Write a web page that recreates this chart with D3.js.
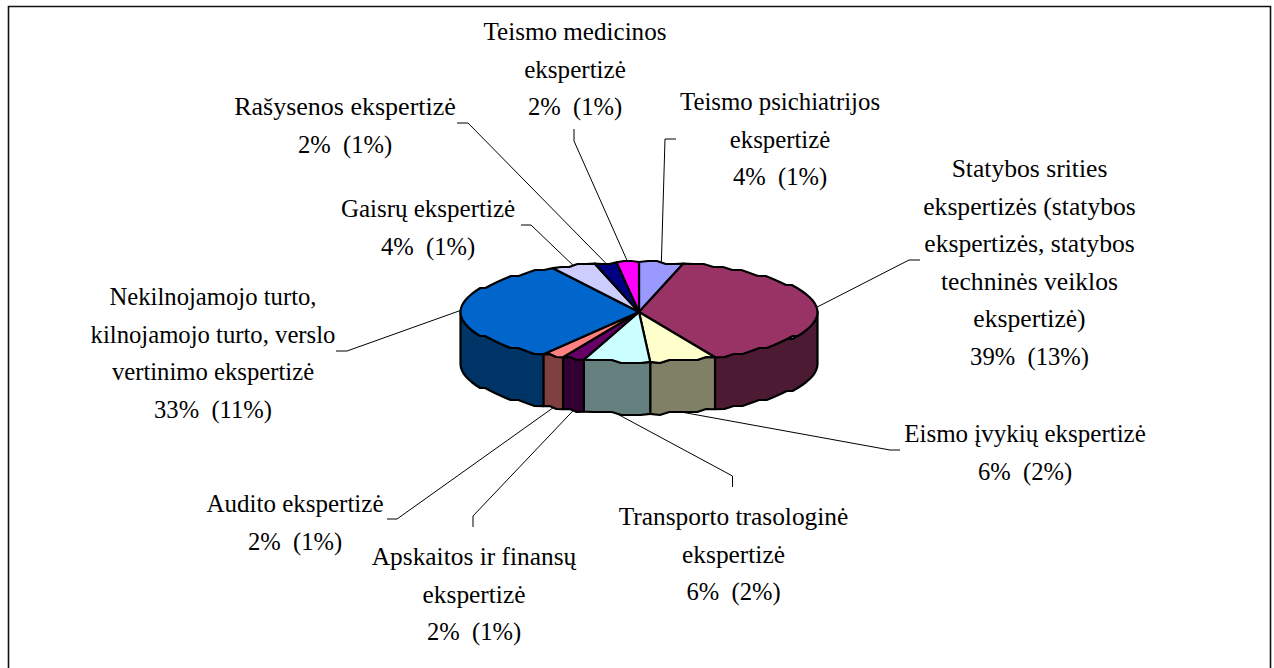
<!DOCTYPE html>
<html><head><meta charset="utf-8">
<script src="https://cdnjs.cloudflare.com/ajax/libs/d3/7.8.5/d3.min.js"></script>
<style>html,body{margin:0;background:#fff;overflow:hidden}svg{display:block}text{font-family:"Liberation Serif",serif;fill:#000}</style>
</head><body><svg id="c" width="1274" height="668"></svg>
<script>
const names = [
 ["Teismo psichiatrijos","ekspertizė"],
 ["Statybos srities","ekspertizės (statybos","ekspertizės, statybos","techninės veiklos","ekspertizė)"],
 ["Eismo įvykių ekspertizė"],
 ["Transporto trasologinė","ekspertizė"],
 ["Apskaitos ir finansų","ekspertizė"],
 ["Audito ekspertizė"],
 ["Nekilnojamojo turto,","kilnojamojo turto, verslo","vertinimo ekspertizė"],
 ["Gaisrų ekspertizė"],
 ["Rašysenos ekspertizė"],
 ["Teismo medicinos","ekspertizė"]
];
const values = [4,39,6,6,2,2,33,4,2,2];
const shares = [1,13,2,2,1,1,11,1,1,1];
const colors = ["#9999FF","#993366","#FFFFCC","#CCFFFF","#660066","#FF8080","#0066CC","#CCCCFF","#000080","#FF00FF"];
// label layout: [centre x, first baseline y, name font size]
const labelPos = [[780,110,24.8],[1029.5,177,25.6],[1025,442,25],[733.5,525,25.4],[474,565,25.4],[295,512,25],[213,305,24.7],[428,217,25],[345,115,26],[575,40,25.1]];
// leader elbows: [elbow x, elbow y, end x, end y]
const leaders = [[665,139,676,139],[909,260,920,260],[890,450,900,450],[732.5,476,732.5,487],[473,516,473,527],[397,519,387,519],[347,351,336,351],[531,225,521,225],[468,123,457,123],[574,141,574,129]];

const cx=639,cy=312,rx=178.5,ry=50,depth=52,lineH=37.6;
const svg=d3.select("#c");
svg.append("path").attr("d","M8.5,668V6.5H1270.5V668").attr("fill","none").attr("stroke","#111").attr("stroke-width",1.6);

const pie=d3.pie().sort(null).value(d=>d)(values);
const px=a=>cx+rx*Math.sin(a), py=a=>cy-ry*Math.cos(a);
// coarse stepped outline, like the low-resolution polygon of the original renderer
const q=v=>Math.round(v/3)*3;
function edge(a0,a1,dy){
  const n=Math.max(1,Math.ceil((a1-a0)/0.06)),pts=[];
  for(let i=0;i<=n;i++){const a=a0+(a1-a0)*i/n;
    pts.push([px(a),((i==0||i==n)?py(a):q(py(a)))+dy]);}
  return pts;
}
const line=d3.line();
const walls=svg.append("g"),tops=svg.append("g"),lead=svg.append("g"),labels=svg.append("g");
const sideCol=c=>{const k=d3.rgb(c);return d3.rgb(k.r/2,k.g/2,k.b/2).formatHex();};
pie.forEach((p,i)=>{
  if(!(p.endAngle>Math.PI/2&&p.startAngle<3*Math.PI/2))return;
  const a0=Math.max(p.startAngle,Math.PI/2),a1=Math.min(p.endAngle,3*Math.PI/2);
  const top=edge(a0,a1,0),bot=edge(a0,a1,depth).reverse();
  walls.append("path").attr("d",line(top.concat(bot))+"Z").attr("fill",sideCol(colors[i]))
    .attr("stroke","#000").attr("stroke-width",2.2).attr("stroke-linejoin","round");
});
pie.forEach((p,i)=>{
  const pts=[[cx,cy]].concat(edge(p.startAngle,p.endAngle,0));
  tops.append("path").attr("d",line(pts)+"Z").attr("fill",colors[i])
    .attr("stroke","#000").attr("stroke-width",2.2).attr("stroke-linejoin","round");
});
pie.forEach((p,i)=>{
  const m=(p.startAngle+p.endAngle)/2;
  const front=m>Math.PI/2&&m<3*Math.PI/2;
  const s=[px(m),py(m)+(front?depth:0)],l=leaders[i];
  lead.append("path").attr("d",line([s,[l[0],l[1]],[l[2],l[3]]])).attr("fill","none").attr("stroke","#000").attr("stroke-width",1);
  const t=labels.append("text").attr("text-anchor","middle").attr("xml:space","preserve");
  names[i].forEach((n,j)=>{
    t.append("tspan").attr("x",labelPos[i][0]).attr("y",labelPos[i][1]+j*lineH).attr("font-size",labelPos[i][2]).text(n);
  });
  t.append("tspan").attr("x",labelPos[i][0]).attr("y",labelPos[i][1]+names[i].length*lineH).attr("font-size",24.6).text(`${values[i]}%  (${shares[i]}%)`);
});
</script></body></html>
